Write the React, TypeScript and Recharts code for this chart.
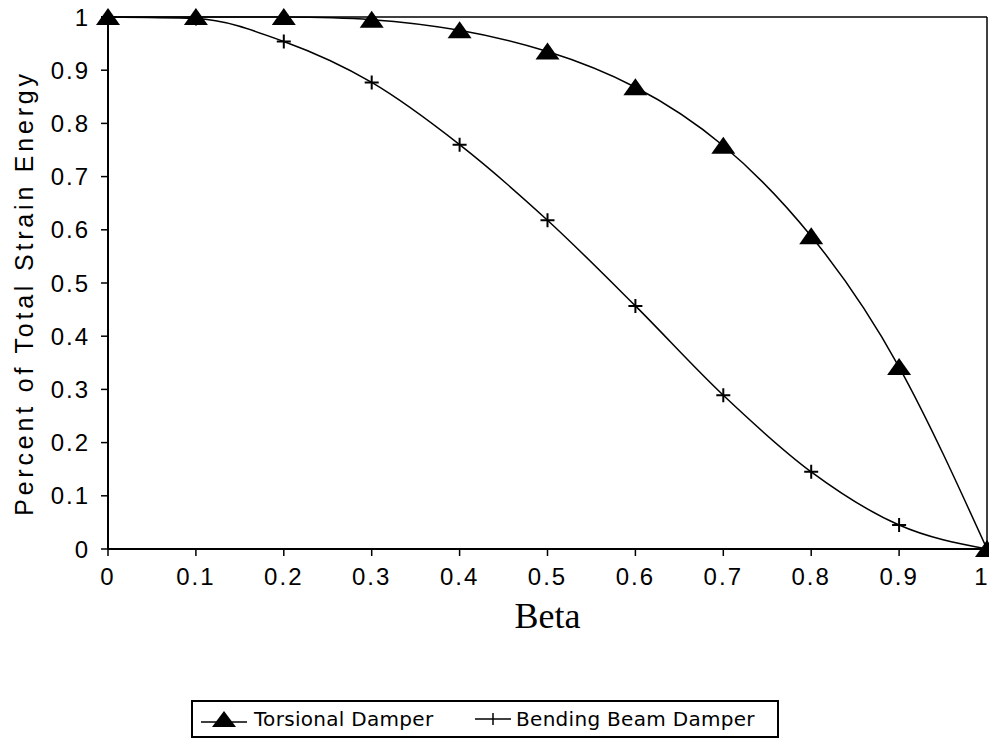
import { LineChart, Line, XAxis, YAxis, Legend, ReferenceLine } from "recharts"

// beta values along the x axis
const betaValues = [0, 0.1, 0.2, 0.3, 0.4, 0.5, 0.6, 0.7, 0.8, 0.9, 1]
const torsionalDamper = [1, 1, 1, 0.995, 0.975, 0.935, 0.868, 0.758, 0.588, 0.342, 0]
const bendingBeamDamper = [1, 0.997, 0.954, 0.877, 0.76, 0.618, 0.457, 0.289, 0.145, 0.045, 0]

const xTicks = [0, 0.1, 0.2, 0.3, 0.4, 0.5, 0.6, 0.7, 0.8, 0.9, 1]
const yTicks = [0, 0.1, 0.2, 0.3, 0.4, 0.5, 0.6, 0.7, 0.8, 0.9, 1]

const seriesNames = { torsional: "Torsional Damper", bending: "Bending Beam Damper" }

const data = betaValues.map((beta, i) => ({
  beta,
  torsional: torsionalDamper[i],
  bending: bendingBeamDamper[i],
}))

const sansFont = "'Liberation Sans', Arial, Helvetica, sans-serif"

function TriangleDot(props: any) {
  const { cx, cy } = props
  if (cx == null || cy == null) return null
  return (
    <path
      key={`t-${cx}`}
      d={`M${cx},${cy - 9} L${cx + 12},${cy + 8} L${cx - 12},${cy + 8} Z`}
      fill="#000"
    />
  )
}

function PlusDot(props: any) {
  const { cx, cy } = props
  if (cx == null || cy == null) return null
  return (
    <path
      key={`p-${cx}`}
      d={`M${cx - 7},${cy} H${cx + 7} M${cx},${cy - 7} V${cy + 7}`}
      stroke="#000"
      strokeWidth={2}
      fill="none"
    />
  )
}

function LegendBox() {
  const textStyle = {
    fontFamily: "'DejaVu Sans', sans-serif",
    fontSize: 20,
    letterSpacing: 0.3,
    color: "#000",
  }
  return (
    <div
      style={{
        boxSizing: "border-box",
        width: 588,
        height: 38,
        border: "2px solid #000",
        display: "flex",
        alignItems: "center",
        background: "#fff",
      }}
    >
      <svg width={52} height={20} style={{ marginLeft: 6 }}>
        <line x1={2} y1={13} x2={48} y2={13} stroke="#000" strokeWidth={1.5} />
        <path d="M25,2 L37,18 L13,18 Z" fill="#000" />
      </svg>
      <span style={{ ...textStyle, marginLeft: 3, width: 219 }}>{seriesNames.torsional}</span>
      <svg width={40} height={20}>
        <line x1={2} y1={10} x2={38} y2={10} stroke="#000" strokeWidth={1.5} />
        <path d="M20,4 V16" stroke="#000" strokeWidth={1.5} />
      </svg>
      <span style={{ ...textStyle, marginLeft: 3 }}>{seriesNames.bending}</span>
    </div>
  )
}

export default function App() {
  return (
    <div style={{ position: "absolute", left: 0, top: 0, width: 989, height: 753, background: "#fff" }}>
      <LineChart
        width={989}
        height={753}
        data={data}
        margin={{ top: 17, right: 2, left: 0, bottom: 20 }}
      >
        <XAxis
          dataKey="beta"
          type="number"
          domain={[0, 1]}
          ticks={xTicks}
          tickFormatter={(v) => String(v)}
          height={146}
          axisLine={{ stroke: "#000", strokeWidth: 2 }}
          tickLine={{ stroke: "#000", strokeWidth: 1.5 }}
          tickSize={7}
          tickMargin={12}
          tick={{ fill: "#000", fontSize: 24, fontFamily: sansFont, letterSpacing: 2 }}
          label={({ viewBox }: any) => (
            <text
              x={viewBox.x + viewBox.width / 2}
              y={viewBox.y + 79}
              textAnchor="middle"
              fontFamily="'Liberation Serif', 'Times New Roman', serif"
              fontSize={36}
              fill="#000"
            >
              Beta
            </text>
          )}
        />
        <YAxis
          type="number"
          domain={[0, 1]}
          ticks={yTicks}
          tickFormatter={(v) => String(v)}
          width={108}
          axisLine={{ stroke: "#000", strokeWidth: 2 }}
          tickLine={{ stroke: "#000", strokeWidth: 1.5 }}
          tickSize={7}
          tickMargin={11}
          tick={{ fill: "#000", fontSize: 24, fontFamily: sansFont, letterSpacing: 2 }}
          label={({ viewBox }: any) => {
            const cx = 24
            const cy = viewBox.y + viewBox.height / 2 + 10
            return (
              <text
                x={cx}
                y={cy}
                transform={`rotate(-90 ${cx} ${cy})`}
                textAnchor="middle"
                dominantBaseline="central"
                fontFamily={sansFont}
                fontSize={25}
                letterSpacing={3.8}
                fill="#000"
              >
                Percent of Total Strain Energy
              </text>
            )
          }}
        />
        <ReferenceLine y={1} stroke="#000" strokeWidth={1.5} />
        <ReferenceLine x={1} stroke="#000" strokeWidth={1.5} />
        <Legend
          verticalAlign="bottom"
          align="left"
          content={() => <LegendBox />}
          wrapperStyle={{ left: 191, bottom: 15, width: 588, height: 38 }}
        />
        <Line
          type="natural"
          dataKey="torsional"
          name={seriesNames.torsional}
          stroke="#000"
          strokeWidth={1.5}
          dot={TriangleDot}
          activeDot={false}
          isAnimationActive={false}
        />
        <Line
          type="monotone"
          dataKey="bending"
          name={seriesNames.bending}
          stroke="#000"
          strokeWidth={1.5}
          dot={PlusDot}
          activeDot={false}
          isAnimationActive={false}
        />
      </LineChart>
    </div>
  )
}
